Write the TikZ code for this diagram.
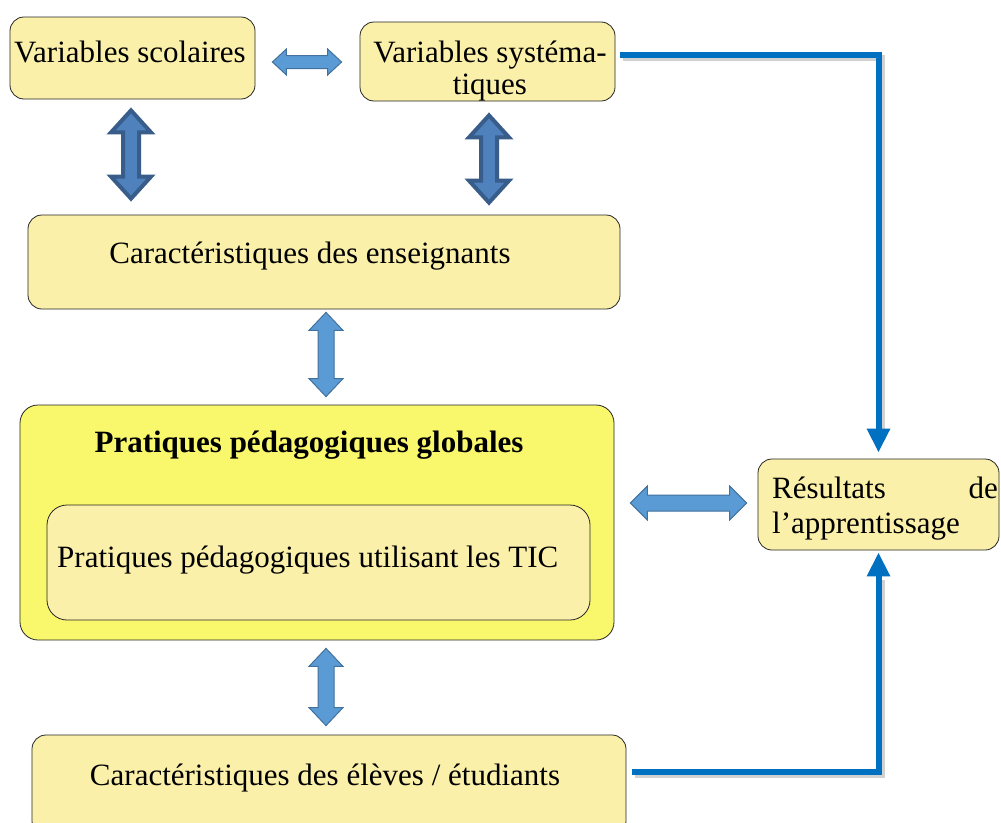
\documentclass[tikz,border=0pt]{standalone}
\usepackage{fontspec}
\setmainfont{Liberation Serif}
\usetikzlibrary{calc,arrows.meta}
\definecolor{boxfill}{HTML}{FBF0A9}
\definecolor{outerfill}{HTML}{F9F76B}
\definecolor{lightarr}{HTML}{5B9BD5}
\definecolor{lightarrb}{HTML}{41719C}
\definecolor{darkarr}{HTML}{4F81BD}
\definecolor{darkarrb}{HTML}{385D8A}
\definecolor{conn}{HTML}{0070C0}
% #1 style, #2 start, #3 end, #4 half head width, #5 half shaft width, #6 head length
\newcommand\dblarrow[6]{%
  \path (#2) coordinate (dA) (#3) coordinate (dB);
  \path ($(dA)!#6!(dB)$) coordinate (dP) ($(dB)!#6!(dA)$) coordinate (dQ);
  \draw[#1] (dA) -- ($(dP)!#4!90:(dB)$) -- ($(dP)!#5!90:(dB)$)
    -- ($(dQ)!#5!-90:(dA)$) -- ($(dQ)!#4!-90:(dA)$) -- (dB)
    -- ($(dQ)!#4!90:(dA)$) -- ($(dQ)!#5!90:(dA)$)
    -- ($(dP)!#5!-90:(dB)$) -- ($(dP)!#4!-90:(dB)$) -- cycle;}
\begin{document}
\begin{tikzpicture}[x=1pt,y=-1pt,
  box/.style={draw=black!85, line width=0.8pt, rounded corners=14pt, fill=boxfill, inner sep=0pt},
  outerbox/.style={box, fill=outerfill, rounded corners=18pt},
  txt/.style={font=\fontsize{31}{36}\selectfont, inner sep=0pt},
  ttl/.style={font=\fontsize{31}{36}\selectfont\bfseries, inner sep=0pt},
  darkarrow/.style={fill=darkarr, draw=darkarrb, line width=4pt, line join=miter},
  lightarrow/.style={fill=lightarr, draw=lightarrb, line width=1pt, line join=miter},
  link/.style={draw=conn, line width=6pt, -{Triangle[length=24pt,width=22pt]}},
  linkshadow/.style={draw=black, opacity=0.18, line width=6pt}]
\clip (0,0) rectangle (1001,822);
\fill[white] (0,0) rectangle (1001,822);

% boxes
\node[box, minimum width=245pt, minimum height=82pt] (vsco) at (132.5,58) {};
\node[box, minimum width=255pt, minimum height=79pt] (vs) at (487.5,61.5) {};
\node[box, minimum width=592pt, minimum height=94pt] (ens) at (324,262) {};
\node[outerbox, minimum width=594pt, minimum height=235pt] (pg) at (317,522.5) {};
\node[box, minimum width=543pt, minimum height=115pt, rounded corners=20pt] (tic) at (318.5,562.5) {};
\node[box, minimum width=241pt, minimum height=91pt] (res) at (878.5,504.5) {};
\node[box, minimum width=594pt, minimum height=100pt] (el) at (329,785) {};

% texts
\node[txt, anchor=base] (vsco-t) at (130,62) {Variables scolaires};
\node[txt, anchor=base] (vs-t1) at (490,62) {Variables systéma-};
\node[txt, anchor=base] (vs-t2) at (490,94) {tiques};
\node[txt, anchor=base] (ens-t) at (310,263) {Caractéristiques des enseignants};
\node[ttl, anchor=base] (pg-t) at (309,452) {Pratiques pédagogiques globales};
\node[txt, anchor=base west] (tic-t) at (57,567) {Pratiques pédagogiques utilisant les TIC};
\node[txt, anchor=base west] (res-t1) at (772,498) {Résultats};
\node[txt, anchor=base east] (res-t2) at (998,498) {de};
\node[txt, anchor=base west] (res-t3) at (772,533) {l’apprentissage};
\node[txt, anchor=base] (el-t) at (325,785) {Caractéristiques des élèves / étudiants};

% block double arrows
\dblarrow{lightarrow}{$(vsco.east)+(17,4)$}{$(vs.west)+(-18,0.5)$}{13pt}{6.5pt}{14pt}
\dblarrow{darkarrow}{$(vsco.south)+(-1.5,11)$}{$(vsco.south |- ens.north)+(-1.5,-16)$}{20pt}{8pt}{22pt}
\dblarrow{darkarrow}{$(vs.south)+(1.5,14)$}{$(vs.south |- ens.north)+(1.5,-12)$}{20pt}{8pt}{22pt}
\dblarrow{lightarrow}{$(ens.south)+(2,3)$}{$(ens.south |- pg.north)+(2,-8)$}{17pt}{8pt}{18pt}
\dblarrow{lightarrow}{$(ens.south |- pg.south)+(2,8)$}{$(ens.south |- el.north)+(2,-9)$}{17pt}{8pt}{18pt}
\dblarrow{lightarrow}{$(pg.east)+(16,-19.5)$}{$(res.west)+(-11,-1.5)$}{17pt}{8pt}{17pt}

% blue connectors
\draw[linkshadow] ($(vs.east)+(8,-3.5)$) -| ($(res.north)+(3,-30)$);
\draw[linkshadow] ($(el.east)+(9,-10)$) -| ($(res.south)+(3,30)$);
\draw[link] ($(vs.east)+(5,-6.5)$) -| ($(res.north)+(0,-6)$);
\draw[link] ($(el.east)+(6,-13)$) -| ($(res.south)+(0,2)$);
\end{tikzpicture}
\end{document}
